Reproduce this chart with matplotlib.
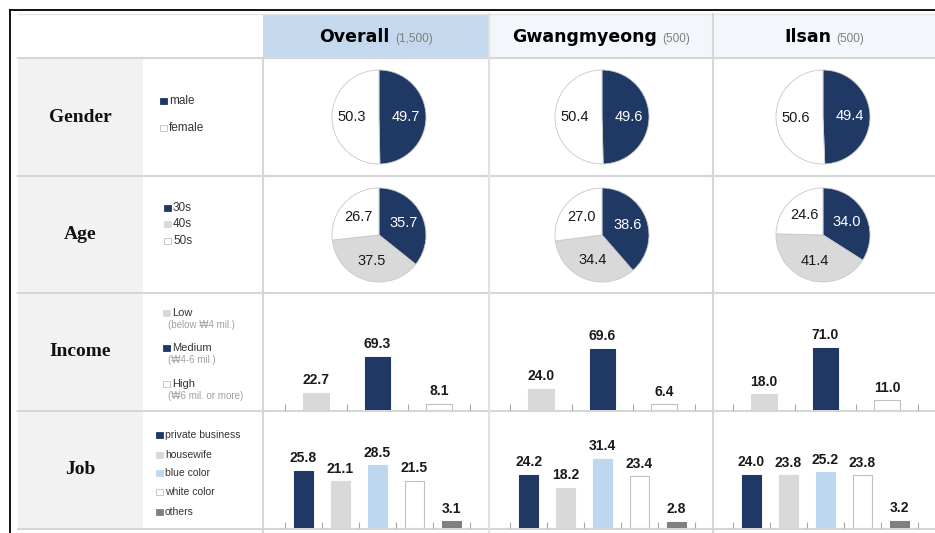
import numpy as np
import matplotlib
matplotlib.use('Agg')
import matplotlib.pyplot as plt
from matplotlib.patches import Rectangle

# ---------------- data ----------------
regions = ['Overall', 'Gwangmyeong', 'Ilsan']
sample_sizes = ['(1,500)', '(500)', '(500)']
row_titles = ['Gender', 'Age', 'Income', 'Job']

gender_labels = ['male', 'female']
gender_values = [[49.7, 50.3], [49.6, 50.4], [49.4, 50.6]]

age_labels = ['30s', '40s', '50s']
age_values = [[35.7, 37.5, 26.7], [38.6, 34.4, 27.0], [34.0, 41.4, 24.6]]

income_labels = ['Low', 'Medium', 'High']
income_notes = ['(below \u20a94 mil.)', '(\u20a94-6 mil.)', '(\u20a96 mil. or more)']
income_values = [[22.7, 69.3, 8.1], [24.0, 69.6, 6.4], [18.0, 71.0, 11.0]]

job_labels = ['private business', 'housewife', 'blue color', 'white color', 'others']
job_values = [[25.8, 21.1, 28.5, 21.5, 3.1],
              [24.2, 18.2, 31.4, 23.4, 2.8],
              [24.0, 23.8, 25.2, 23.8, 3.2]]

# ---------------- style ----------------
NAVY = '#1f3864'
LGRAY = '#d9d9d9'
LBLUE = '#bdd7ee'
WHITE = '#ffffff'
DGRAY = '#808080'
EDGE = '#bfbfbf'
GRID = '#d6d6d6'
SANS = ['Liberation Sans', 'DejaVu Sans']

gender_colors = [NAVY, WHITE]
age_colors = [NAVY, LGRAY, WHITE]
income_colors = [LGRAY, NAVY, WHITE]
job_colors = [NAVY, LGRAY, LBLUE, WHITE, DGRAY]

W, H = 935, 533
fig = plt.figure(figsize=(W / 100, H / 100), dpi=100)
fig.patch.set_facecolor('white')
bg = fig.add_axes([0, 0, 1, 1])
bg.set_xlim(0, W)
bg.set_ylim(H, 0)
bg.axis('off')


def px_axes(x0, y0, x1, y1):
    return fig.add_axes([x0 / W, 1 - y1 / H, (x1 - x0) / W, (y1 - y0) / H])


# table geometry (pixels)
col_edges = [263, 489, 713, 935]
row_edges = [58, 176, 293, 411, 529]
header_top = 14

# header cells
header_fills = ['#c5d9ee', '#f3f6fb', '#f3f6fb']
for i, fc in enumerate(header_fills):
    bg.add_patch(Rectangle((col_edges[i], header_top), col_edges[i + 1] - col_edges[i],
                           row_edges[0] - header_top, facecolor=fc, edgecolor='none', zorder=0))
# row-title column
bg.add_patch(Rectangle((18, row_edges[0]), 143 - 18, row_edges[-1] - row_edges[0],
                       facecolor='#f2f2f2', edgecolor='none', zorder=0))

# grid lines
bg.plot([18, W], [header_top, header_top], color='#e4e4e4', lw=1.0, zorder=1)
for y in row_edges:
    bg.plot([18, W], [y, y], color=GRID, lw=1.5, zorder=1)
bg.plot([263, 263], [row_edges[0], row_edges[-1] + 4], color=GRID, lw=1.5, zorder=1)
bg.plot([489, 489], [header_top, row_edges[-1] + 4], color='#e0e0e0', lw=1.5, zorder=1)
bg.plot([713, 713], [header_top, row_edges[-1] + 4], color=GRID, lw=1.5, zorder=1)

# black frame
bg.plot([9.5, 9.5], [9.5, H], color='black', lw=1.3, zorder=2)
bg.plot([9.5, W], [9.5, 9.5], color='black', lw=1.3, zorder=2)

# header texts
renderer = fig.canvas.get_renderer()
for i, (name, n) in enumerate(zip(regions, sample_sizes)):
    cx = (col_edges[i] + col_edges[i + 1]) / 2
    t1 = bg.text(0, 42, name, fontsize=12.5, fontweight='bold', family=['DejaVu Sans'],
                 va='baseline', ha='left', color='black')
    t2 = bg.text(0, 42, n, fontsize=8.5, family=SANS, va='baseline', ha='left', color='#7f7f7f')
    w1 = t1.get_window_extent(renderer).width
    w2 = t2.get_window_extent(renderer).width
    gap = 5
    left = cx - (w1 + gap + w2) / 2
    t1.set_x(left)
    t2.set_x(left + w1 + gap)

# row titles
for r, title in enumerate(row_titles):
    cy = (row_edges[r] + row_edges[r + 1]) / 2
    bg.text(80, cy, title, fontsize=14, fontweight='bold', family=['Liberation Serif', 'DejaVu Serif'],
            ha='center', va='center', color='#111111')


def legend_item(x, y, label, color, size, note=None, note_dy=12):
    bg.add_patch(Rectangle((x, y - 3.5), 7, 6, facecolor=color,
                           edgecolor=EDGE if color == WHITE else color, lw=0.6, zorder=3))
    bg.text(x + 9, y, label, fontsize=size, family=SANS, ha='left', va='center', color='#333333')
    if note:
        bg.text(x + 5, y + note_dy, note, fontsize=7, family=SANS, ha='left', va='center', color='#a0a0a0')


for lab, c, y in zip(gender_labels, gender_colors, [101, 128]):
    legend_item(160, y, lab, c, 8.5)
for lab, c, y in zip(age_labels, age_colors, [208, 224, 241]):
    legend_item(164, y, lab, c, 8.5)
for lab, note, c, y in zip(income_labels, income_notes, income_colors, [313, 348, 384]):
    legend_item(163, y, lab, c, 8, note=note, note_dy=12)
for lab, c, y in zip(job_labels, job_colors, [435, 455, 473, 492, 512]):
    legend_item(156, y, lab, c, 7.5)


# ---------------- pies ----------------
pie_cx = [379, 602, 823]


def draw_pie(cx, cy, values, colors):
    ax = px_axes(cx - 50, cy - 50, cx + 50, cy + 50)
    wedges, _ = ax.pie(values, colors=colors, startangle=90, counterclock=False,
                       radius=0.94, wedgeprops=dict(edgecolor='#c8c8c8', linewidth=0.6))
    ax.set_xlim(-1, 1)
    ax.set_ylim(-1, 1)
    for w, v, c in zip(wedges, values, colors):
        ang = np.deg2rad((w.theta1 + w.theta2) / 2)
        d = 0.58 * 0.94
        ax.text(d * np.cos(ang), d * np.sin(ang), f'{v:.1f}', ha='center', va='center',
                fontsize=10.5, family=SANS, color='white' if c == NAVY else '#1a1a1a')


for i in range(3):
    draw_pie(pie_cx[i], 117, gender_values[i], gender_colors)
    draw_pie(pie_cx[i], 235, age_values[i], age_colors)

# ---------------- bars ----------------
bar_left = [285, 510, 733]
income_ymax = [152, 133, 133]
job_ymax = 53


def draw_bars(x0, y_top, y_base, values, colors, ymax, bw, fsize):
    ax = px_axes(x0, y_top, x0 + 185, y_base)
    ax.patch.set_visible(False)
    n = len(values)
    edges = [EDGE if c == WHITE else c for c in colors]
    bars = ax.bar(range(n), values, width=bw, color=colors, edgecolor=edges, linewidth=0.8)
    ax.set_xlim(-0.5, n - 0.5)
    ax.set_ylim(0, ymax)
    for s in ax.spines.values():
        s.set_visible(False)
    ax.set_xticks([i - 0.5 for i in range(n + 1)])
    ax.tick_params(axis='x', direction='in', length=4, color='#a6a6a6', width=0.8,
                   labelbottom=False)
    ax.set_yticks([])
    for b, v in zip(bars, values):
        ax.annotate(f'{v:.1f}', (b.get_x() + b.get_width() / 2, v), xytext=(0, 4),
                    textcoords='offset points', ha='center', va='bottom', fontsize=fsize,
                    fontweight='bold', family=SANS, color='#1a1a1a', annotation_clip=False)


for i in range(3):
    draw_bars(bar_left[i], 293, 410, income_values[i], income_colors, income_ymax[i], 0.42, 10)
    draw_bars(bar_left[i], 411, 528, job_values[i], job_colors, job_ymax, 0.5, 10)

fig.savefig('out.png', dpi=100)
